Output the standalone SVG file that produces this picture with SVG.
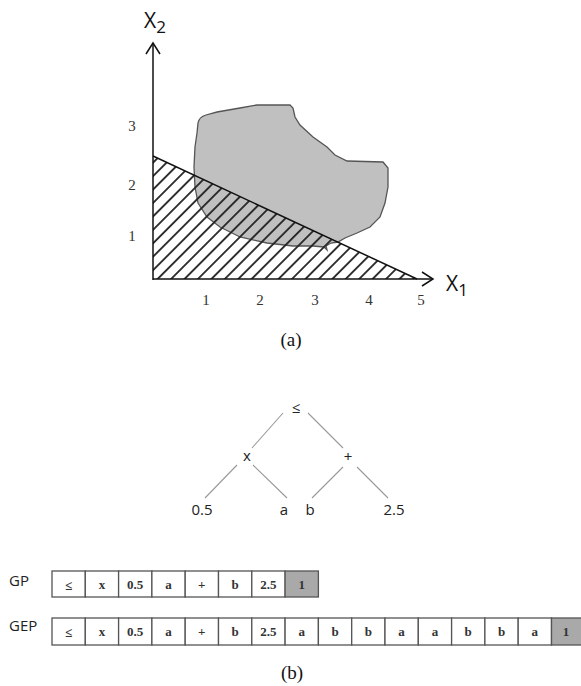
<svg xmlns="http://www.w3.org/2000/svg" width="581" height="686" viewBox="0 0 581 686">
<style>
.ax{stroke:#111;stroke-width:1.5;fill:none}
.tk{font-family:"Liberation Serif",serif;font-size:15px;fill:#333;text-anchor:middle}
.cap{font-family:"Liberation Serif",serif;font-size:19px;fill:#111;text-anchor:middle}
.var{font-family:"Open Sans",sans-serif;fill:#111}
.tn{font-family:"Open Sans",sans-serif;font-size:15px;fill:#222;text-anchor:middle}
.tl{stroke:#999;stroke-width:1.1}
.cell{fill:#fff;stroke:#555;stroke-width:1.3}
.gcell{fill:#a9a9a9;stroke:#555;stroke-width:1.3}
.ct{font-family:"Liberation Serif",serif;font-weight:bold;font-size:13px;fill:#333;text-anchor:middle}
.lab{font-family:"Open Sans",sans-serif;font-size:15px;fill:#222}
</style>
<defs>
<pattern id="hatch" patternUnits="userSpaceOnUse" width="9.5" height="9.5" patternTransform="rotate(45)">
<line x1="4.75" y1="-1" x2="4.75" y2="11" stroke="#222" stroke-width="1.8"/>
</pattern>
<clipPath id="tri"><polygon points="153,156 153,279 417,279"/></clipPath>
</defs>
<g id="plot">
<path id="blob" d="M198,123 Q199,117 206,115 L217,112 L240,108 L257,105 L290,105 L293,108 L295,117 L300,125 L313,137 L327,147 L335,155 L347,161 L383,162 L388,168 L388,187 L385,203 L380,217 L370,227 L357,233 L345,238 L338,242 L331,243 L326,246 L327,250 L324,247 L313,246 L293,246 L267,243 L240,237 L220,227 L207,217 L198,203 L195,187 L194,167 L195,147 L197,133 Z" fill="#c0c0c0" stroke="#555" stroke-width="1.3"/>
<rect x="150" y="150" width="270" height="132" fill="url(#hatch)" clip-path="url(#tri)"/>
<line class="ax" x1="153" y1="156" x2="417" y2="279"/>
<line class="ax" x1="153" y1="280" x2="153" y2="43"/>
<polyline class="ax" points="146,54 153,43 160,54"/>
<line class="ax" x1="153" y1="279" x2="432" y2="279"/>
<polyline class="ax" points="422,272 433,279 422,286"/>
<text class="var" x="144" y="28" font-size="21">X<tspan font-size="17" dy="5">2</tspan></text>
<text class="var" x="446" y="291" font-size="21">X<tspan font-size="17" dy="5">1</tspan></text>
<text class="tk" x="132" y="131">3</text>
<text class="tk" x="132" y="190">2</text>
<text class="tk" x="132" y="241">1</text>
<text class="tk" x="206" y="305">1</text>
<text class="tk" x="260" y="305">2</text>
<text class="tk" x="315" y="305">3</text>
<text class="tk" x="369" y="305">4</text>
<text class="tk" x="421" y="305">5</text>
<text class="cap" x="291" y="346">(a)</text>
</g>
<g id="connectors">
<line class="tl" x1="283" y1="413" x2="252" y2="448"/>
<line class="tl" x1="308" y1="413" x2="343" y2="448"/>
<line class="tl" x1="237" y1="465" x2="205" y2="498"/>
<line class="tl" x1="253" y1="465" x2="287" y2="498"/>
<line class="tl" x1="343" y1="467" x2="312" y2="498"/>
<line class="tl" x1="357" y1="467" x2="388" y2="498"/>
</g>
<g id="n-root"><text class="tn" x="296" y="413" font-size="21" font-family="'DejaVu Sans',sans-serif">≤</text></g>
<g id="n-x"><text class="tn" x="247" y="461">x</text></g>
<g id="n-plus"><text class="tn" x="348" y="462" font-size="17">+</text></g>
<g id="n-05"><text class="tn" x="202" y="515">0.5</text></g>
<g id="n-a"><text class="tn" x="284" y="515">a</text></g>
<g id="n-b"><text class="tn" x="310" y="515">b</text></g>
<g id="n-25"><text class="tn" x="394" y="515">2.5</text></g>
<g id="gp">
<text class="lab" x="9" y="586">GP</text>
<rect class="cell" x="52" y="571" width="33.3" height="26"/>
<rect class="cell" x="85.3" y="571" width="33.3" height="26"/>
<rect class="cell" x="118.6" y="571" width="33.3" height="26"/>
<rect class="cell" x="151.9" y="571" width="33.3" height="26"/>
<rect class="cell" x="185.2" y="571" width="33.3" height="26"/>
<rect class="cell" x="218.5" y="571" width="33.3" height="26"/>
<rect class="cell" x="251.8" y="571" width="33.3" height="26"/>
<rect class="gcell" x="285.1" y="571" width="33.3" height="26"/>
<text class="ct" x="68.6" y="590" font-size="16" font-weight="normal">≤</text>
<text class="ct" x="101.9" y="589">x</text>
<text class="ct" x="135.2" y="589">0.5</text>
<text class="ct" x="168.5" y="589">a</text>
<text class="ct" x="201.8" y="589">+</text>
<text class="ct" x="235.1" y="589">b</text>
<text class="ct" x="268.4" y="589">2.5</text>
<text class="ct" x="301.7" y="589">1</text>
</g>
<g id="gep">
<text class="lab" x="9" y="631">GEP</text>
<rect class="cell" x="52" y="618" width="33.3" height="27"/>
<rect class="cell" x="85.3" y="618" width="33.3" height="27"/>
<rect class="cell" x="118.6" y="618" width="33.3" height="27"/>
<rect class="cell" x="151.9" y="618" width="33.3" height="27"/>
<rect class="cell" x="185.2" y="618" width="33.3" height="27"/>
<rect class="cell" x="218.5" y="618" width="33.3" height="27"/>
<rect class="cell" x="251.8" y="618" width="33.3" height="27"/>
<rect class="cell" x="285.1" y="618" width="33.3" height="27"/>
<rect class="cell" x="318.4" y="618" width="33.3" height="27"/>
<rect class="cell" x="351.7" y="618" width="33.3" height="27"/>
<rect class="cell" x="385" y="618" width="33.3" height="27"/>
<rect class="cell" x="418.3" y="618" width="33.3" height="27"/>
<rect class="cell" x="451.6" y="618" width="33.3" height="27"/>
<rect class="cell" x="484.9" y="618" width="33.3" height="27"/>
<rect class="cell" x="518.2" y="618" width="33.3" height="27"/>
<rect class="gcell" x="551.5" y="618" width="33.3" height="27"/>
<text class="ct" x="68.6" y="637" font-size="16" font-weight="normal">≤</text>
<text class="ct" x="101.9" y="636">x</text>
<text class="ct" x="135.2" y="636">0.5</text>
<text class="ct" x="168.5" y="636">a</text>
<text class="ct" x="201.8" y="636">+</text>
<text class="ct" x="235.1" y="636">b</text>
<text class="ct" x="268.4" y="636">2.5</text>
<text class="ct" x="301.7" y="636">a</text>
<text class="ct" x="335" y="636">b</text>
<text class="ct" x="368.3" y="636">b</text>
<text class="ct" x="401.6" y="636">a</text>
<text class="ct" x="434.9" y="636">a</text>
<text class="ct" x="468.2" y="636">b</text>
<text class="ct" x="501.5" y="636">b</text>
<text class="ct" x="534.8" y="636">a</text>
<text class="ct" x="566" y="636">1</text>
</g>
<text class="cap" x="292" y="679">(b)</text>
</svg>
